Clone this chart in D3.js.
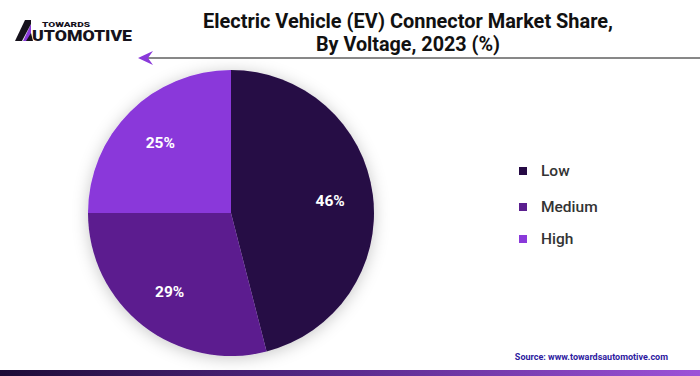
<!DOCTYPE html>
<html>
<head>
<meta charset="utf-8">
<script src="https://cdn.jsdelivr.net/npm/d3@7"></script>
<style>
  body { margin: 0; background: #fff; }
  svg { display: block; font-family: Roboto, "Liberation Sans", sans-serif; }
</style>
</head>
<body>
<svg id="chart"></svg>
<script>
// data
let categories = ['Low', 'Medium', 'High'];
let shares = [46, 29, 25];
let colorList = ['#260a45', '#5b1f8f', '#8a39da'];
let legendY = [171, 207, 239];

function makeChart() {
	let w = 700;
	let h = 376;
	let cx = 231;
	let cy = 213;
	let radius = 143;

	let svg = d3.select('#chart')
		.attr('width', w)
		.attr('height', h);

	let defs = svg.append('defs');

	// soft shadow behind the pie
	let shadow = defs.append('filter')
		.attr('id', 'shadow')
		.attr('x', '-30%').attr('y', '-30%')
		.attr('width', '160%').attr('height', '160%');
	shadow.append('feDropShadow')
		.attr('dx', 0).attr('dy', 2)
		.attr('stdDeviation', 8)
		.attr('flood-color', '#000')
		.attr('flood-opacity', 0.22);

	let grad = defs.append('linearGradient')
		.attr('id', 'bar');
	grad.append('stop').attr('offset', '0%').attr('stop-color', '#1c0b36');
	grad.append('stop').attr('offset', '50%').attr('stop-color', '#5a2b8e');
	grad.append('stop').attr('offset', '100%').attr('stop-color', '#9d52d8');

	// logo
	let logo = svg.append('g');
	logo.append('path')
		.attr('d', 'M23,41 L31,24 L31,41 Z')
		.attr('fill', '#8a39da');
	logo.append('path')
		.attr('d', 'M15,41 L25,20 L31,20 L31,24 L22,41 Z')
		.attr('fill', '#16121c');
	logo.append('path')
		.attr('d', 'M26,41 L31,33 L33,41 Z')
		.attr('fill', '#16121c');
	logo.append('text')
		.attr('x', 42).attr('y', 27)
		.attr('font-size', 7.5).attr('font-weight', 900)
		.attr('fill', '#16121c')
		.attr('textLength', 48)
		.attr('lengthAdjust', 'spacingAndGlyphs')
		.text('TOWARDS');
	logo.append('text')
		.attr('x', 32).attr('y', 41)
		.attr('font-size', 14).attr('font-weight', 900)
		.attr('fill', '#16121c')
		.attr('textLength', 100)
		.attr('lengthAdjust', 'spacingAndGlyphs')
		.text('UTOMOTIVE');

	// title
	let title = svg.append('text')
		.attr('text-anchor', 'middle')
		.attr('font-size', 20.5)
		.attr('font-weight', 700)
		.attr('fill', '#111');
	title.append('tspan')
		.attr('x', 408).attr('y', 28)
		.attr('textLength', 410)
		.attr('lengthAdjust', 'spacingAndGlyphs')
		.text('Electric Vehicle (EV) Connector Market Share,');
	title.append('tspan')
		.attr('x', 408).attr('y', 51)
		.attr('textLength', 184)
		.attr('lengthAdjust', 'spacingAndGlyphs')
		.text('By Voltage, 2023 (%)');

	// arrow line
	svg.append('line')
		.attr('x1', 146).attr('y1', 58)
		.attr('x2', 700).attr('y2', 58)
		.attr('stroke', '#111')
		.attr('stroke-width', 1);
	svg.append('path')
		.attr('d', 'M138,58 L153,51 L148,58 L153,65 Z')
		.attr('fill', '#8a39da');

	// pie
	let pie = d3.pie()
		.sort(null)
		.value(d => d);

	let arc = d3.arc()
		.innerRadius(0)
		.outerRadius(radius);

	let labelArc = d3.arc()
		.innerRadius(100)
		.outerRadius(100);

	let arcs = pie(shares);

	let g = svg.append('g')
		.attr('transform', `translate(${cx},${cy})`);

	g.append('g')
		.attr('filter', 'url(#shadow)')
		.selectAll('path')
		.data(arcs)
		.enter()
		.append('path')
		.attr('d', arc)
		.attr('fill', (d, i) => colorList[i]);

	g.selectAll('.lbl')
		.data(arcs)
		.enter()
		.append('text')
		.attr('class', 'lbl')
		.attr('transform', d => `translate(${labelArc.centroid(d)})`)
		.attr('text-anchor', 'middle')
		.attr('dy', '0.35em')
		.attr('fill', '#fff')
		.attr('font-size', 15.5)
		.attr('font-weight', 700)
		.text(d => d.data + '%');

	// legend
	let legend = svg.append('g')
		.selectAll('g')
		.data(categories)
		.enter()
		.append('g')
		.attr('transform', (d, i) => `translate(519,${legendY[i]})`);

	legend.append('rect')
		.attr('x', 0).attr('y', -4)
		.attr('width', 8).attr('height', 8)
		.attr('fill', (d, i) => colorList[i]);

	legend.append('text')
		.attr('x', 22)
		.attr('dy', '0.35em')
		.attr('font-size', 15.5)
		.attr('font-weight', 500)
		.attr('fill', '#333')
		.text(d => d);

	// source
	svg.append('text')
		.attr('x', 668).attr('y', 360)
		.attr('text-anchor', 'end')
		.attr('font-size', 9)
		.attr('font-weight', 700)
		.attr('fill', '#2d1aa0')
		.text('Source: www.towardsautomotive.com');

	svg.append('rect')
		.attr('x', 0).attr('y', 370)
		.attr('width', w).attr('height', 6)
		.attr('fill', 'url(#bar)');
}

window.onload = function () {
	makeChart();
}
</script>
</body>
</html>
